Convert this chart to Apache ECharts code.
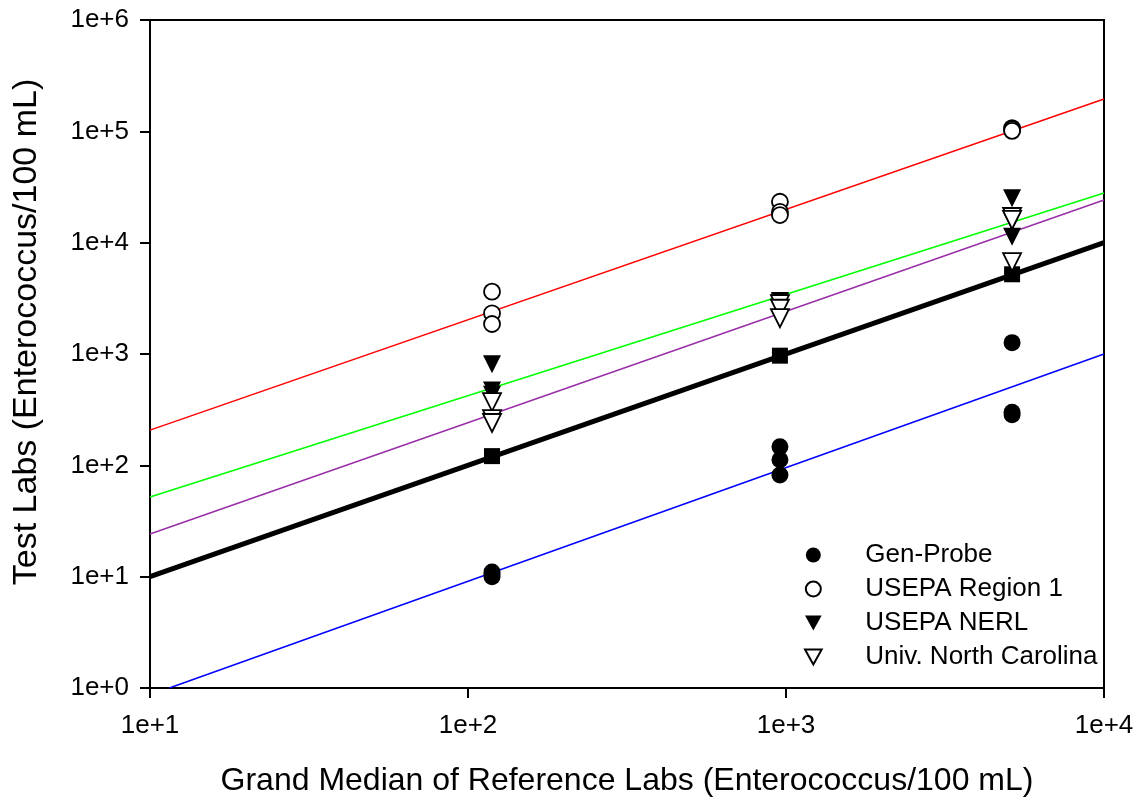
<!DOCTYPE html>
<html>
<head>
<meta charset="utf-8">
<script src="https://cdn.jsdelivr.net/npm/echarts@6/dist/echarts.min.js"></script>
<style>
  html, body { margin: 0; padding: 0; background: #fff; }
  #chart { width: 1141px; height: 802px; }
</style>
</head>
<body>
<div id="chart"></div>
<script>
// 参考实验室中位数 (x), 每组三个重复
const labX = [119, 119, 119, 957, 957, 957, 5140, 5140, 5140]

const genProbe = [11, 10.5, 10, 147, 112, 82, 1265, 300, 285]
const region1 = [3630, 2320, 1860, 23300, 18900, 17700, 107000, 104000, 101000]
const nerl = [810, 470, 430, 3000, 2900, 2800, 25000, 15500, 11300]
const unc = [370, 260, 240, 2800, 2550, 2100, 17000, 16000, 6700]

// 中位数方块
const medianX = [119, 957, 5140]
const medianY = [121, 966, 5200]

// 拟合线 两端点
const oneX = [10, 10000], oneY = [10, 10000]
const redX = [10, 10000], redY = [207, 195000]
const greenX = [10, 10000], greenY = [52, 27900]
const purpleX = [10, 10000], purpleY = [24.2, 24200]
const blueX = [11.5, 10000], blueY = [1, 1000]

const xTicks = ['1e+1', '1e+2', '1e+3', '1e+4']
const yTicks = ['1e+0', '1e+1', '1e+2', '1e+3', '1e+4', '1e+5', '1e+6']

const pairs = (xs, ys) => xs.map((x, i) => [x, ys[i]])
const expLabel = v => '1e+' + Math.round(Math.log10(v))

const downTri = 'path://M0,0 L10,0 L5,9 Z'

const lineSeries = (name, xs, ys, color, width) => ({
  name, type: 'line', data: pairs(xs, ys), showSymbol: false, symbol: 'none',
  lineStyle: { color, width }, silent: true, z: 1
})

const dotSeries = (name, ys, symbol, fill, size) => ({
  name, type: 'scatter', data: pairs(labX, ys), symbol, symbolSize: size,
  itemStyle: { color: fill, borderColor: '#000', borderWidth: fill === '#000' ? 0 : 1.8, opacity: 1 },
  z: 3
})

const myChart = echarts.init(document.querySelector('#chart'))

const font = 'Liberation Sans, Arial, sans-serif'

const option = {
  animation: false,
  textStyle: { fontFamily: font },
  grid: {
    left: 150, right: 37, top: 20, bottom: 114,
    show: true, borderColor: '#000', borderWidth: 2
  },
  xAxis: {
    type: 'log', logBase: 10, min: 10, max: 10000,
    name: 'Grand Median of Reference Labs (Enterococcus/100 mL)',
    nameLocation: 'middle', nameGap: 77,
    nameTextStyle: { fontSize: 32, color: '#000', fontFamily: font },
    axisLine: { show: true, lineStyle: { color: '#000', width: 2 } },
    axisTick: { show: true, inside: false, length: 10, lineStyle: { color: '#000', width: 2 } },
    minorTick: { show: false },
    splitLine: { show: false },
    axisLabel: { fontSize: 26, color: '#000', margin: 25, fontFamily: font,
      formatter: v => xTicks.includes(expLabel(v)) ? expLabel(v) : '' }
  },
  yAxis: {
    type: 'log', logBase: 10, min: 1, max: 1000000,
    name: 'Test Labs (Enterococcus/100 mL)',
    nameLocation: 'middle', nameGap: 106,
    nameTextStyle: { fontSize: 34, color: '#000', fontFamily: font, padding: [0, 0, 0, 44] },
    axisLine: { show: true, lineStyle: { color: '#000', width: 2 } },
    axisTick: { show: true, inside: false, length: 10, lineStyle: { color: '#000', width: 2 } },
    splitLine: { show: false },
    axisLabel: { fontSize: 26, color: '#000', margin: 21, fontFamily: font,
      formatter: v => yTicks.includes(expLabel(v)) ? expLabel(v) : '' }
  },
  legend: {
    data: ['Gen-Probe', 'USEPA Region 1', 'USEPA NERL', 'Univ. North Carolina'],
    orient: 'vertical', left: 799, top: 537,
    itemWidth: 94, itemHeight: 15, itemGap: 8,
    textStyle: { fontSize: 26, color: '#000', fontFamily: font },
    selectedMode: false
  },
  series: [
    lineSeries('red', redX, redY, '#ff0000', 1.5),
    lineSeries('green', greenX, greenY, '#00ff00', 1.5),
    lineSeries('purple', purpleX, purpleY, '#9a2ea8', 1.5),
    lineSeries('blue', blueX, blueY, '#0000ff', 1.5),
    lineSeries('1:1', oneX, oneY, '#000', 5),
    {
      name: 'median', type: 'scatter', data: pairs(medianX, medianY),
      symbol: 'rect', symbolSize: 16, itemStyle: { color: '#000', opacity: 1 }, z: 3
    },
    dotSeries('Gen-Probe', genProbe, 'circle', '#000', 17),
    dotSeries('USEPA Region 1', region1, 'circle', '#fff', 16),
    dotSeries('USEPA NERL', nerl, downTri, '#000', 18),
    dotSeries('Univ. North Carolina', unc, downTri, '#fff', 18)
  ]
}

myChart.setOption(option)
</script>
</body>
</html>
